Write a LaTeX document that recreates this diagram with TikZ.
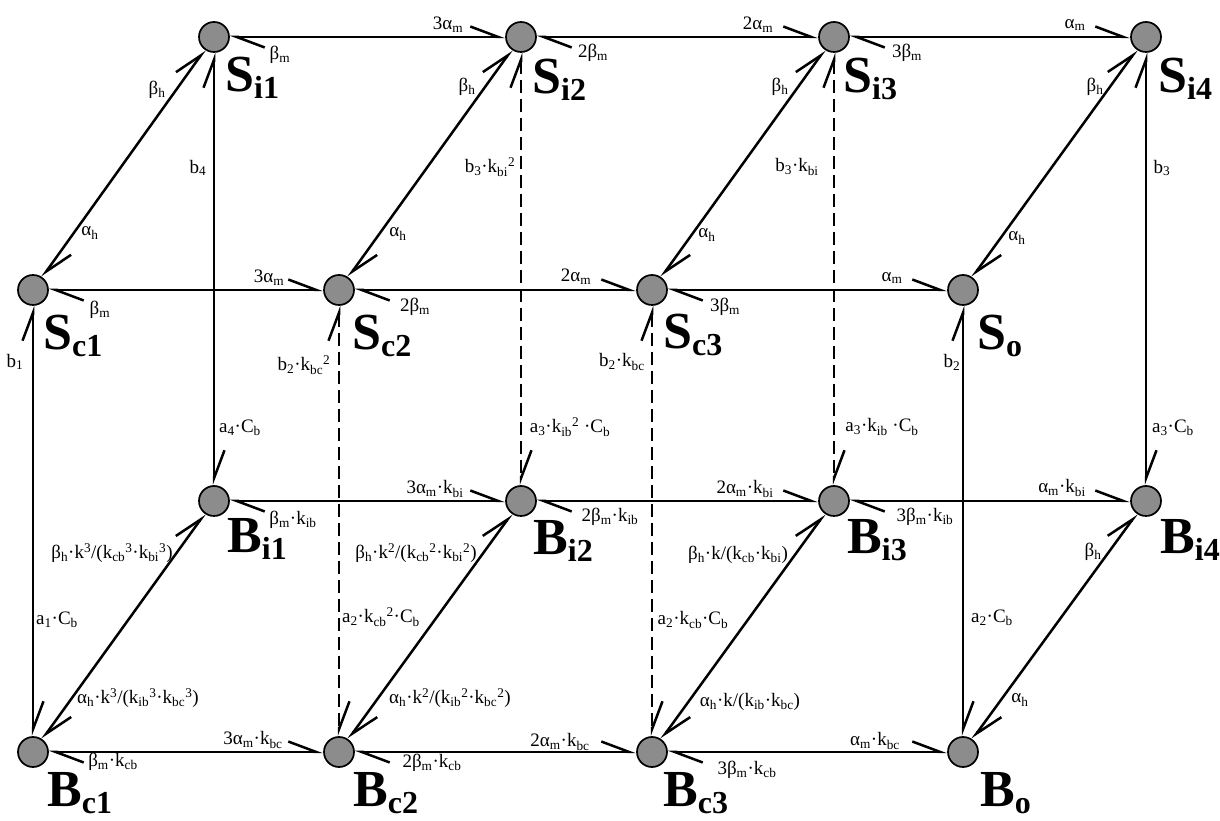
\documentclass[tikz,border=0pt]{standalone}
\usepackage{fontspec}
\setmainfont{Liberation Serif}
\usetikzlibrary{arrows.meta}
\definecolor{stategray}{RGB}{140,140,140}
\newcommand{\sbs}[1]{\textsubscript{#1}}
\newcommand{\sps}[1]{\textsuperscript{#1}}
\newcommand{\bsub}[1]{\raisebox{-7pt}{\fontsize{32}{32}\selectfont #1}}
\tikzset{
  stnode/.style={circle, draw, line width=1.7pt, fill=stategray, minimum size=30pt, inner sep=0pt},
  rate/.style={line width=2.5pt, {Straight Barb[left,length=28pt,width=21pt]}-{Straight Barb[left,length=28pt,width=21pt]}},
  ratedash/.style={rate, dash pattern=on 13pt off 6pt},
  lbl/.style={font=\fontsize{19}{21}\selectfont, inner sep=0pt},
  stlbl/.style={font=\fontsize{52}{52}\selectfont\bfseries, inner sep=0pt, anchor=base west}
}
\begin{document}
\begin{tikzpicture}[x=1pt,y=1pt]
    \useasboundingbox (0,0) rectangle (1220,821);

    % states
    \node[stnode] (Si1) at (214,784) {};
    \node[stnode] (Si2) at (521,784) {};
    \node[stnode] (Si3) at (834,784) {};
    \node[stnode] (Si4) at (1146,784) {};
    \node[stnode] (Sc1) at (33,531) {};
    \node[stnode] (Sc2) at (339,531) {};
    \node[stnode] (Sc3) at (652,531) {};
    \node[stnode] (So) at (963,531) {};
    \node[stnode] (Bi1) at (214,320) {};
    \node[stnode] (Bi2) at (521,320) {};
    \node[stnode] (Bi3) at (834,320) {};
    \node[stnode] (Bi4) at (1146,320) {};
    \node[stnode] (Bc1) at (33,69) {};
    \node[stnode] (Bc2) at (339,69) {};
    \node[stnode] (Bc3) at (652,69) {};
    \node[stnode] (Bo) at (963,69) {};

    % state names
    \node[stlbl] (nSi1) at (225,729) {S\bsub{i1}};
    \node[stlbl] (nSi2) at (532,727) {S\bsub{i2}};
    \node[stlbl] (nSi3) at (843,728) {S\bsub{i3}};
    \node[stlbl] (nSi4) at (1158,728) {S\bsub{i4}};
    \node[stlbl] (nSc1) at (43,471) {S\bsub{c1}};
    \node[stlbl] (nSc2) at (352,471) {S\bsub{c2}};
    \node[stlbl] (nSc3) at (663,472) {S\bsub{c3}};
    \node[stlbl] (nSo) at (977,471) {S\bsub{o}};
    \node[stlbl] (nBi1) at (227,268) {B\bsub{i1}};
    \node[stlbl] (nBi2) at (533,266) {B\bsub{i2}};
    \node[stlbl] (nBi3) at (847,267) {B\bsub{i3}};
    \node[stlbl] (nBi4) at (1160,267) {B\bsub{i4}};
    \node[stlbl] (nBc1) at (47,14) {B\bsub{c1}};
    \node[stlbl] (nBc2) at (353,14) {B\bsub{c2}};
    \node[stlbl] (nBc3) at (663,14) {B\bsub{c3}};
    \node[stlbl] (nBo) at (980,14) {B\bsub{o}};

    % transitions
    \draw[rate] (Si1) -- (Si2);
    \draw[rate] (Si2) -- (Si3);
    \draw[rate] (Si3) -- (Si4);
    \draw[rate] (Sc1) -- (Sc2);
    \draw[rate] (Sc2) -- (Sc3);
    \draw[rate] (Sc3) -- (So);
    \draw[rate] (Bi1) -- (Bi2);
    \draw[rate] (Bi2) -- (Bi3);
    \draw[rate] (Bi3) -- (Bi4);
    \draw[rate] (Bc1) -- (Bc2);
    \draw[rate] (Bc2) -- (Bc3);
    \draw[rate] (Bc3) -- (Bo);
    \draw[rate] (Sc1) -- (Si1);
    \draw[rate] (Sc2) -- (Si2);
    \draw[rate] (Sc3) -- (Si3);
    \draw[rate] (So) -- (Si4);
    \draw[rate] (Bc1) -- (Bi1);
    \draw[rate] (Bc2) -- (Bi2);
    \draw[rate] (Bc3) -- (Bi3);
    \draw[rate] (Bo) -- (Bi4);
    \draw[rate] (Si1) -- (Bi1);
    \draw[rate] (Si4) -- (Bi4);
    \draw[rate] (Sc1) -- (Bc1);
    \draw[rate] (So) -- (Bo);
    \draw[ratedash] (Si2) -- (Bi2);
    \draw[ratedash] (Si3) -- (Bi3);
    \draw[ratedash] (Sc2) -- (Bc2);
    \draw[ratedash] (Sc3) -- (Bc3);

    % rates, top layer
    \node[lbl] (r1) at (280,766) {β\sbs{m}};
    \node[lbl] (r2) at (448,796) {3α\sbs{m}};
    \node[lbl] (r3) at (593,768) {2β\sbs{m}};
    \node[lbl] (r4) at (758,796) {2α\sbs{m}};
    \node[lbl] (r5) at (907,768) {3β\sbs{m}};
    \node[lbl] (r6) at (1075,796) {α\sbs{m}};
    \node[lbl] (r7) at (157,731) {β\sbs{h}};
    \node[lbl] (r8) at (467,734) {β\sbs{h}};
    \node[lbl] (r9) at (780,734) {β\sbs{h}};
    \node[lbl] (r10) at (1095,734) {β\sbs{h}};
    \node[lbl] (r11) at (90,588) {α\sbs{h}};
    \node[lbl] (r12) at (398,587) {α\sbs{h}};
    \node[lbl] (r13) at (707,586) {α\sbs{h}};
    \node[lbl] (r14) at (1017,583) {α\sbs{h}};
    \node[lbl] (r15) at (198,653) {b\sbs{4}};
    \node[lbl] (r16) at (490,654) {b\sbs{3}·k\sbs{bi}\sps{2}};
    \node[lbl] (r17) at (797,654) {b\sbs{3}·k\sbs{bi}};
    \node[lbl] (r18) at (1162,653) {b\sbs{3}};

    % rates, middle
    \node[lbl] (r19) at (100,511) {β\sbs{m}};
    \node[lbl] (r20) at (269,543) {3α\sbs{m}};
    \node[lbl] (r21) at (415,514) {2β\sbs{m}};
    \node[lbl] (r22) at (576,544) {2α\sbs{m}};
    \node[lbl] (r23) at (725,514) {3β\sbs{m}};
    \node[lbl] (r24) at (892,543) {α\sbs{m}};
    \node[lbl] (r25) at (15,459) {b\sbs{1}};
    \node[lbl] (r26) at (304,456) {b\sbs{2}·k\sbs{bc}\sps{2}};
    \node[lbl] (r27) at (622,459) {b\sbs{2}·k\sbs{bc}};
    \node[lbl] (r28) at (952,459) {b\sbs{2}};
    \node[lbl] (r29) at (240,393) {a\sbs{4}·C\sbs{b}};
    \node[lbl] (r30) at (570,394) {a\sbs{3}·k\sbs{ib}\sps{2} ·C\sbs{b}};
    \node[lbl] (r31) at (882,394) {a\sbs{3}·k\sbs{ib} ·C\sbs{b}};
    \node[lbl] (r32) at (1173,393) {a\sbs{3}·C\sbs{b}};
    \node[lbl] (r33) at (293,301) {β\sbs{m}·k\sbs{ib}};
    \node[lbl] (r34) at (435,332) {3α\sbs{m}·k\sbs{bi}};
    \node[lbl] (r35) at (610,304) {2β\sbs{m}·k\sbs{ib}};
    \node[lbl] (r36) at (745,332) {2α\sbs{m}·k\sbs{bi}};
    \node[lbl] (r37) at (925,304) {3β\sbs{m}·k\sbs{ib}};
    \node[lbl] (r38) at (1062,333) {α\sbs{m}·k\sbs{bi}};

    % rates, bottom layer
    \node[lbl] (r39) at (112,268) {β\sbs{h}·k\sps{3}/(k\sbs{cb}\sps{3}·k\sbs{bi}\sps{3})};
    \node[lbl] (r40) at (416,268) {β\sbs{h}·k\sps{2}/(k\sbs{cb}\sps{2}·k\sbs{bi}\sps{2})};
    \node[lbl] (r41) at (738,266) {β\sbs{h}·k/(k\sbs{cb}·k\sbs{bi})};
    \node[lbl] (r42) at (1093,269) {β\sbs{h}};
    \node[lbl] (r43) at (57,201) {a\sbs{1}·C\sbs{b}};
    \node[lbl] (r44) at (381,204) {a\sbs{2}·k\sbs{cb}\sps{2}·C\sbs{b}};
    \node[lbl] (r45) at (693,201) {a\sbs{2}·k\sbs{cb}·C\sbs{b}};
    \node[lbl] (r46) at (992,203) {a\sbs{2}·C\sbs{b}};
    \node[lbl] (r47) at (138,123) {α\sbs{h}·k\sps{3}/(k\sbs{ib}\sps{3}·k\sbs{bc}\sps{3})};
    \node[lbl] (r48) at (450,123) {α\sbs{h}·k\sps{2}/(k\sbs{ib}\sps{2}·k\sbs{bc}\sps{2})};
    \node[lbl] (r49) at (750,119) {α\sbs{h}·k/(k\sbs{ib}·k\sbs{bc})};
    \node[lbl] (r50) at (1020,121) {α\sbs{h}};
    \node[lbl] (r51) at (253,81) {3α\sbs{m}·k\sbs{bc}};
    \node[lbl] (r52) at (560,79) {2α\sbs{m}·k\sbs{bc}};
    \node[lbl] (r53) at (875,80) {α\sbs{m}·k\sbs{bc}};
    \node[lbl] (r54) at (113,59) {β\sbs{m}·k\sbs{cb}};
    \node[lbl] (r55) at (432,58) {2β\sbs{m}·k\sbs{cb}};
    \node[lbl] (r56) at (747,51) {3β\sbs{m}·k\sbs{cb}};
\end{tikzpicture}
\end{document}
